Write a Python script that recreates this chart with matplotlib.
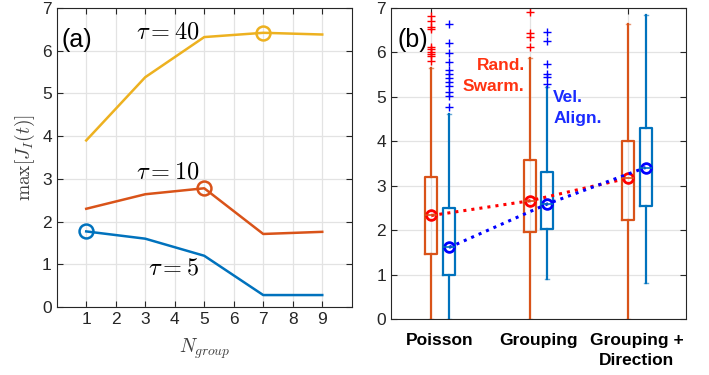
import matplotlib
matplotlib.use("Agg")
import matplotlib.pyplot as plt

plt.rcParams['font.family'] = ['Liberation Sans', 'DejaVu Sans']
plt.rcParams['mathtext.fontset'] = 'cm'

# ---------------- Panel (a) data ----------------
n_group = [1, 3, 5, 7, 9]
tau5 = [1.77, 1.60, 1.20, 0.28, 0.28]
tau10 = [2.30, 2.64, 2.78, 1.71, 1.76]
tau40 = [3.90, 5.38, 6.32, 6.42, 6.38]
peak_idx5, peak_idx10, peak_idx40 = 0, 2, 3

# ---------------- Panel (b) data ----------------
categories = ['Poisson', 'Grouping', 'Grouping +\nDirection']
rand_q1 = [1.47, 1.95, 2.22]
rand_q3 = [3.20, 3.57, 4.01]
rand_med = [2.33, 2.66, 3.17]
rand_lo = [0.0, 0.0, 0.0]
rand_hi = [5.65, 5.87, 6.65]
rand_fliers = [[5.81, 5.91, 5.97, 6.02, 6.07, 6.13, 6.52, 6.58, 6.71, 6.81],
               [6.13, 6.35, 6.43, 6.90],
               []]
vel_q1 = [1.00, 2.02, 2.55]
vel_q3 = [2.49, 3.31, 4.30]
vel_med = [1.61, 2.59, 3.41]
vel_lo = [0.0, 0.89, 0.80]
vel_hi = [4.62, 5.22, 6.84]
vel_fliers = [[4.78, 5.02, 5.10, 5.25, 5.34, 5.43, 5.52, 5.60, 5.79, 5.98, 6.22, 6.64],
              [5.28, 5.44, 5.52, 5.73, 6.25, 6.46],
              []]

c_blue = '#0072BD'
c_red = '#D95319'
c_yel = '#EDB120'
spine_c = '#262626'
grid_c = '#E3E3E3'

fig = plt.figure(figsize=(7.09, 3.75), dpi=100)
ax1 = fig.add_axes([0.080, 0.1813, 0.4161, 0.7973])
ax2 = fig.add_axes([0.5515, 0.1493, 0.4160, 0.8293])

def style(ax):
    for s in ax.spines.values():
        s.set_color(spine_c)
        s.set_linewidth(0.8)
    ax.tick_params(direction='in', top=True, right=True, length=4,
                   width=0.8, color=spine_c, labelsize=12.5, labelcolor='#262626')
    ax.set_axisbelow(True)

# ---- Panel (a)
style(ax1)
ax1.grid(True, color=grid_c, linewidth=0.9)
ax1.plot(n_group, tau40, color=c_yel, lw=1.8)
ax1.plot(n_group, tau10, color=c_red, lw=1.8)
ax1.plot(n_group, tau5, color=c_blue, lw=1.8)
ax1.plot(n_group[peak_idx40], tau40[peak_idx40], 'o', mfc='none', mec=c_yel, ms=10, mew=1.8)
ax1.plot(n_group[peak_idx10], tau10[peak_idx10], 'o', mfc='none', mec=c_red, ms=10, mew=1.8)
ax1.plot(n_group[peak_idx5], tau5[peak_idx5], 'o', mfc='none', mec=c_blue, ms=10, mew=1.8)
ax1.set_xlim(0, 10)
ax1.set_ylim(0, 7)
ax1.set_xticks(range(1, 10))
ax1.set_yticks(range(0, 8))
ax1.text(3.75, 6.42, r'$\tau = 40$', fontsize=17.5, ha='center', va='center')
ax1.text(3.75, 3.16, r'$\tau = 10$', fontsize=17.5, ha='center', va='center')
ax1.text(3.95, 0.91, r'$\tau = 5$', fontsize=17.5, ha='center', va='center')
ax1.text(0.15, 6.25, '(a)', fontsize=18, ha='left', va='center')
ax1.set_xlabel(r'$N_{group}$', fontsize=14, color='#404040', labelpad=7)
ax1.set_ylabel(r'$\max[J_I(t)]$', fontsize=14, color='#404040', labelpad=4)

# ---- Panel (b)
style(ax2)
pos = [1, 2, 3]
off = 0.09
wid = 0.12

def stats(q1, q3, med, lo, hi, fl):
    return [dict(med=m, q1=a, q3=b, whislo=l, whishi=h, fliers=f)
            for a, b, m, l, h, f in zip(q1, q3, med, lo, hi, fl)]

def draw(st, positions, col, fcol):
    ax2.bxp(st, positions=positions, widths=wid, showfliers=True,
            boxprops=dict(color=col, lw=1.6),
            whiskerprops=dict(color=col, lw=1.6, linestyle='-'),
            capprops=dict(color=col, lw=1.0, alpha=0.6),
            medianprops=dict(color=col, lw=1.2),
            flierprops=dict(marker='+', markeredgecolor=fcol, markersize=6, mew=1.0),
            capwidths=0.04, manage_ticks=False)

draw(stats(rand_q1, rand_q3, rand_med, rand_lo, rand_hi, rand_fliers),
     [p - off for p in pos], c_red, 'red')
draw(stats(vel_q1, vel_q3, vel_med, vel_lo, vel_hi, vel_fliers),
     [p + off for p in pos], c_blue, 'blue')

ax2.plot([p - off for p in pos], rand_med, ':', color='red', lw=2.2,
         marker='o', mfc='none', mec='red', ms=7, mew=2)
ax2.plot([p + off for p in pos], vel_med, ':', color='blue', lw=2.2,
         marker='o', mfc='none', mec='blue', ms=7, mew=2)

ax2.set_xlim(0.5, 3.5)
ax2.set_ylim(0, 7)
ax2.set_yticks(range(0, 8))
ax2.yaxis.grid(True, color=grid_c, linewidth=0.9)
ax2.set_xticks(pos)
ax2.set_xticklabels(categories, fontweight='bold', fontsize=12.5, color='black',
                    linespacing=1.45)
ax2.set_xticks([p - off for p in pos], minor=True)
ax2.xaxis.grid(True, which='minor', color=grid_c, linewidth=0.9)
ax2.tick_params(axis='x', which='major', length=0, pad=10)
ax2.tick_params(axis='x', which='minor', direction='in', top=True, bottom=False,
                length=4, width=0.8, color=spine_c)
ax2.text(1.86, 5.47, 'Rand.\nSwarm.', color='#FF3311', fontweight='bold', fontsize=12.5,
         ha='right', va='center', linespacing=1.45)
ax2.text(2.15, 4.75, 'Vel.\nAlign.', color='#1A2BFF', fontweight='bold', fontsize=12.5,
         ha='left', va='center', linespacing=1.45)
ax2.text(0.57, 6.28, '(b)', fontsize=18, ha='left', va='center')

fig.savefig('out.png', dpi=100)
